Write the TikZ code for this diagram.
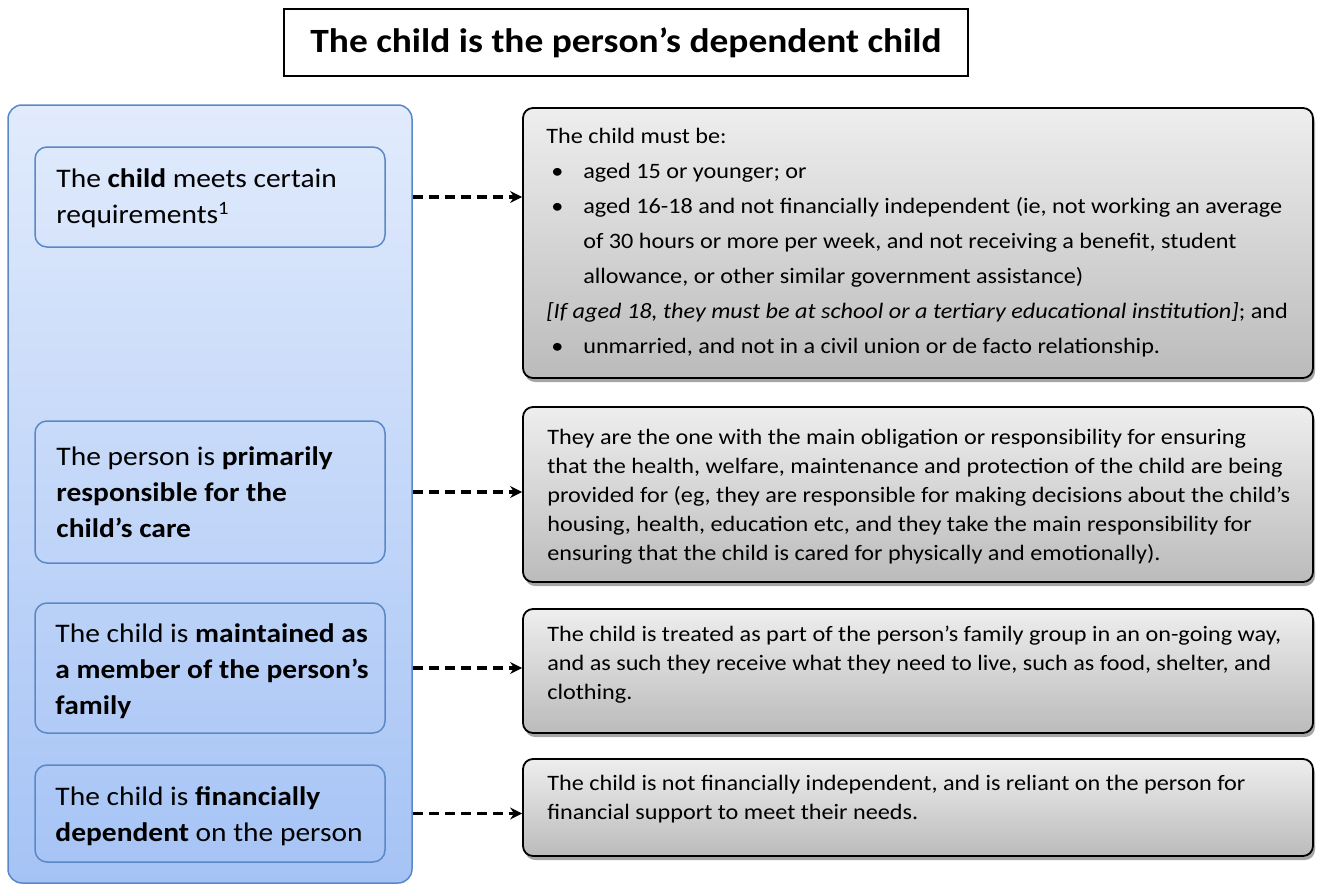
\documentclass[tikz,border=0pt]{standalone}
\usepackage{fontspec}
\setmainfont{Carlito}[FakeStretch=1.1]
\usetikzlibrary{arrows.meta,shadows}
\definecolor{bluetop}{HTML}{E1EBFC}
\definecolor{bluebot}{HTML}{A5C3F5}
\definecolor{blueline}{HTML}{5A88C6}
\definecolor{greytop}{HTML}{EEEEEE}
\definecolor{greybot}{HTML}{BBBBBB}
\tikzset{
  outerbox/.style={draw=blueline, line width=1.5pt, rounded corners=14pt, top color=bluetop, bottom color=bluebot, inner sep=0pt, minimum width=404pt, minimum height=778pt},
  innerbox/.style={draw=blueline, line width=1.5pt, rounded corners=12pt, minimum width=350pt, inner sep=0pt},
  lefttext/.style={anchor=west, inner sep=0pt, align=left, font=\fontsize{26.8}{36}\selectfont},
  greybox/.style={draw=black, line width=1.8pt, rounded corners=10pt, top color=greytop, bottom color=greybot, minimum width=790pt, inner sep=0pt, drop shadow={shadow xshift=2pt, shadow yshift=-4pt, opacity=0.35, fill=black}},
  bodytext/.style={anchor=north west, inner sep=0pt, align=left, font=\fontsize{22}{29}\selectfont},
  link/.style={draw=black, line width=3.5pt, dash pattern=on 10pt off 6pt, -{Stealth[length=12pt,width=12pt]}},
  titlebox/.style={draw=black, line width=1.5pt, minimum width=684pt, minimum height=67pt, inner sep=0pt, font=\fontsize{34}{40}\selectfont\bfseries}
}
\newcommand{\bul}{\makebox[37pt][l]{\hspace{5pt}•}}
\newcommand{\ind}{\hspace*{37pt}}
\begin{document}
\begin{tikzpicture}[x=1pt,y=-1pt]
\useasboundingbox (0,0) rectangle (1320,886);
\node[titlebox] (title) at (626,42.5) {The child is the person’s dependent child};
\node[outerbox] (big) at (210,494) {};
\node[innerbox, minimum height=100pt] (b1) at (210,197) {};
\node[innerbox, minimum height=142pt] (b2) at (210,492) {};
\node[innerbox, minimum height=130pt] (b3) at (210,668) {};
\node[innerbox, minimum height=97pt] (b4) at (210,813.5) {};
\node[lefttext] (l1) at ([xshift=22pt,yshift=-1pt]b1.west) {The \textbf{child} meets certain\\requirements\textsuperscript{1}};
\node[lefttext] (l2) at ([xshift=22pt]b2.west) {The person is \textbf{primarily}\\\textbf{responsible for the}\\\textbf{child’s care}};
\node[lefttext] (l3) at ([xshift=21pt,yshift=-3pt]b3.west) {The child is \textbf{maintained as}\\\textbf{a member of the person’s}\\\textbf{family}};
\node[lefttext] (l4) at ([xshift=21pt,yshift=-3pt]b4.west) {The child is \textbf{financially}\\\textbf{dependent} on the person};

\node[greybox, minimum height=270pt] (r1) at (918,243) {};
\node[greybox, minimum height=175pt] (r2) at (918,494.5) {};
\node[greybox, minimum height=124pt] (r3) at (918,671) {};
\node[greybox, minimum height=97pt] (r4) at (918,807.5) {};

\node[bodytext, font=\fontsize{22}{35}\selectfont] (t1) at ([xshift=24pt,yshift=-21pt]r1.north west) {The child must be:\\
\bul aged 15 or younger; or\\
\bul aged 16-18 and not financially independent (ie, not working an average\\
\ind of 30 hours or more per week, and not receiving a benefit, student\\
\ind allowance, or other similar government assistance)\\
\textit{[If aged 18, they must be at school or a tertiary educational institution]}; and\\
\bul unmarried, and not in a civil union or de facto relationship.};
\node[bodytext] (t2) at ([xshift=25pt,yshift=-23pt]r2.north west) {They are the one with the main obligation or responsibility for ensuring\\
that the health, welfare, maintenance and protection of the child are being\\
provided for (eg, they are responsible for making decisions about the child’s\\
housing, health, education etc, and they take the main responsibility for\\
ensuring that the child is cared for physically and emotionally).};
\node[bodytext] (t3) at ([xshift=25pt,yshift=-18pt]r3.north west) {The child is treated as part of the person’s family group in an on-going way,\\
and as such they receive what they need to live, such as food, shelter, and\\
clothing.};
\node[bodytext] (t4) at ([xshift=25pt,yshift=-17pt]r4.north west) {The child is not financially independent, and is reliant on the person for\\
financial support to meet their needs.};

\draw[link] (b1 -| big.east) -- (b1 -| r1.west);
\draw[link] (b2 -| big.east) -- (b2 -| r2.west);
\draw[link] (b3 -| big.east) -- (b3 -| r3.west);
\draw[link] (b4 -| big.east) -- (b4 -| r4.west);
\end{tikzpicture}
\end{document}
